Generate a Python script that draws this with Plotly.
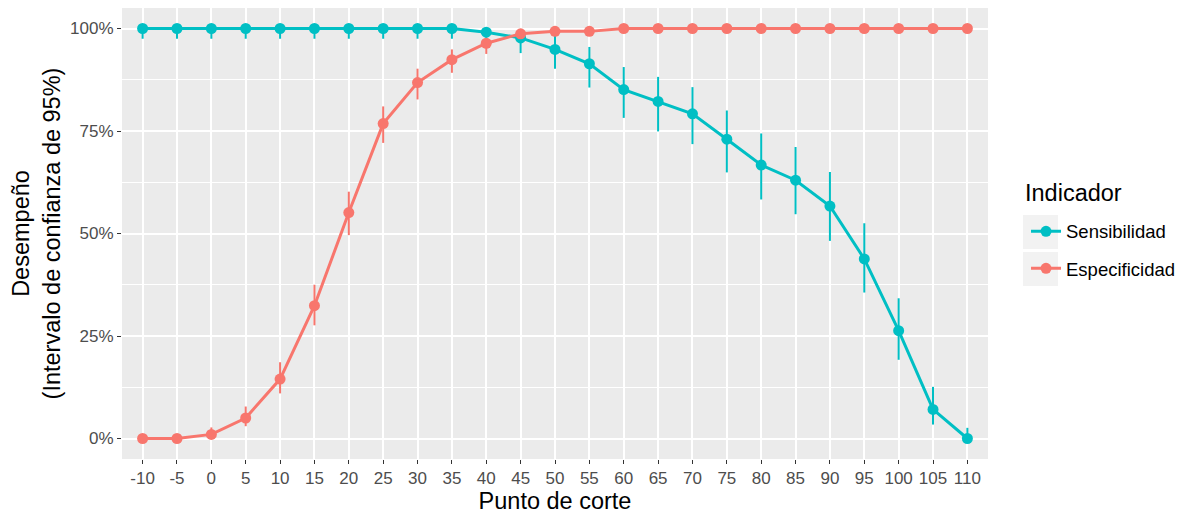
import plotly.graph_objects as go

cortes = ["-10", "-5", "0", "5", "10", "15", "20", "25", "30", "35", "40", "45",
          "50", "55", "60", "65", "70", "75", "80", "85", "90", "95", "100", "105", "110"]

sens = [1.0, 1.0, 1.0, 1.0, 1.0, 1.0, 1.0, 1.0, 1.0, 1.0, 0.991, 0.977,
        0.949, 0.914, 0.851, 0.822, 0.792, 0.730, 0.667, 0.630, 0.567, 0.438,
        0.263, 0.071, 0.0]
sens_lo = [0.975, 0.975, 0.975, 0.975, 0.975, 0.975, 0.975, 0.975, 0.975, 0.975, 0.970, 0.940,
           0.902, 0.856, 0.782, 0.749, 0.718, 0.649, 0.583, 0.547, 0.482, 0.356,
           0.192, 0.034, 0.0]
sens_hi = [1.0, 1.0, 1.0, 1.0, 1.0, 1.0, 1.0, 1.0, 1.0, 1.0, 1.0, 0.997,
           0.983, 0.955, 0.906, 0.882, 0.857, 0.800, 0.744, 0.711, 0.650, 0.525,
           0.342, 0.126, 0.026]

espe = [0.0, 0.0, 0.01, 0.050, 0.145, 0.324, 0.551, 0.768, 0.868, 0.924, 0.964, 0.987,
        0.993, 0.993, 1.0, 1.0, 1.0, 1.0, 1.0, 1.0, 1.0, 1.0, 1.0, 1.0, 1.0]
espe_lo = [0.0, 0.0, 0.0, 0.030, 0.110, 0.276, 0.496, 0.721, 0.827, 0.892, 0.938, 0.975,
           0.985, 0.987, 1.0, 1.0, 1.0, 1.0, 1.0, 1.0, 1.0, 1.0, 1.0, 1.0, 1.0]
espe_hi = [0.0, 0.004, 0.027, 0.078, 0.186, 0.375, 0.602, 0.810, 0.902, 0.949, 0.975, 0.995,
           0.998, 0.998, 1.0, 1.0, 1.0, 1.0, 1.0, 1.0, 1.0, 1.0, 1.0, 1.0, 1.0]

y_ticks = [0, 0.25, 0.5, 0.75, 1.0]
y_ticktext = ["0%", "25%", "50%", "75%", "100%"]

TEAL = "#00BFC4"
RED = "#F8766D"
FONT = "Liberation Sans, Arial, sans-serif"

fig = go.Figure()

def add_series(name, vals, lo, hi, color, group):
    fig.add_trace(go.Scatter(
        x=cortes, y=vals, name=name, mode="lines+markers",
        line=dict(color=color, width=3),
        marker=dict(color=color, size=11),
        error_y=dict(type="data", symmetric=False,
                     array=[h - v for h, v in zip(hi, vals)],
                     arrayminus=[v - l for v, l in zip(vals, lo)],
                     color=color, thickness=2, width=0),
        legendgroup=group,
    ))

add_series("Sensibilidad", sens, sens_lo, sens_hi, TEAL, "a")
add_series("Especificidad", espe, espe_lo, espe_hi, RED, "b")

# grey legend key backgrounds (ggplot style)
for y0, y1 in [(0.4656, 0.541), (0.3836, 0.459)]:
    fig.add_shape(type="rect", xref="paper", yref="paper",
                  x0=1.0404, x1=1.0808, y0=y0, y1=y1,
                  fillcolor="#F2F2F2", line=dict(width=0), layer="below")

fig.add_annotation(text="Indicador", xref="paper", yref="paper",
                   x=1.0404, y=0.5898, xanchor="left", yanchor="middle",
                   showarrow=False, font=dict(size=23.5, color="black"))

fig.update_layout(
    width=1185, height=509,
    margin=dict(l=114, r=205, t=0, b=58, autoexpand=False),
    paper_bgcolor="white",
    plot_bgcolor="#EBEBEB",
    font=dict(family=FONT, color="black"),
    showlegend=True,
    legend=dict(
        font=dict(size=18.5, color="black"),
        x=1.0439, xanchor="left", y=0.546, yanchor="top",
        bgcolor="rgba(0,0,0,0)",
        traceorder="grouped", tracegroupgap=10,
    ),
    xaxis=dict(
        type="category",
        range=[-0.6, len(cortes) - 0.4],
        title=dict(text="Punto de corte", font=dict(size=23.5, color="black"), standoff=4),
        tickfont=dict(size=17, color="#4D4D4D"),
        ticks="outside", ticklen=4, tickcolor="#333333", tickwidth=1,
        showgrid=True, gridcolor="white", gridwidth=1.5,
        zeroline=False, showline=False, automargin=False,
    ),
    yaxis=dict(
        range=[-0.05, 1.05],
        tickvals=y_ticks, ticktext=y_ticktext,
        title=dict(text="Desempeño<br>(Intervalo de confianza de 95%)",
                   font=dict(size=23.5, color="black"), standoff=10),
        tickfont=dict(size=17, color="#4D4D4D"),
        ticks="outside", ticklen=4, tickcolor="#333333", tickwidth=1,
        showgrid=True, gridcolor="white", gridwidth=1.5,
        minor=dict(tickvals=[0.125, 0.375, 0.625, 0.875], showgrid=True,
                   gridcolor="white", gridwidth=0.7, ticks=""),
        zeroline=False, showline=False, automargin=False,
    ),
)

fig.write_html("out.html")
